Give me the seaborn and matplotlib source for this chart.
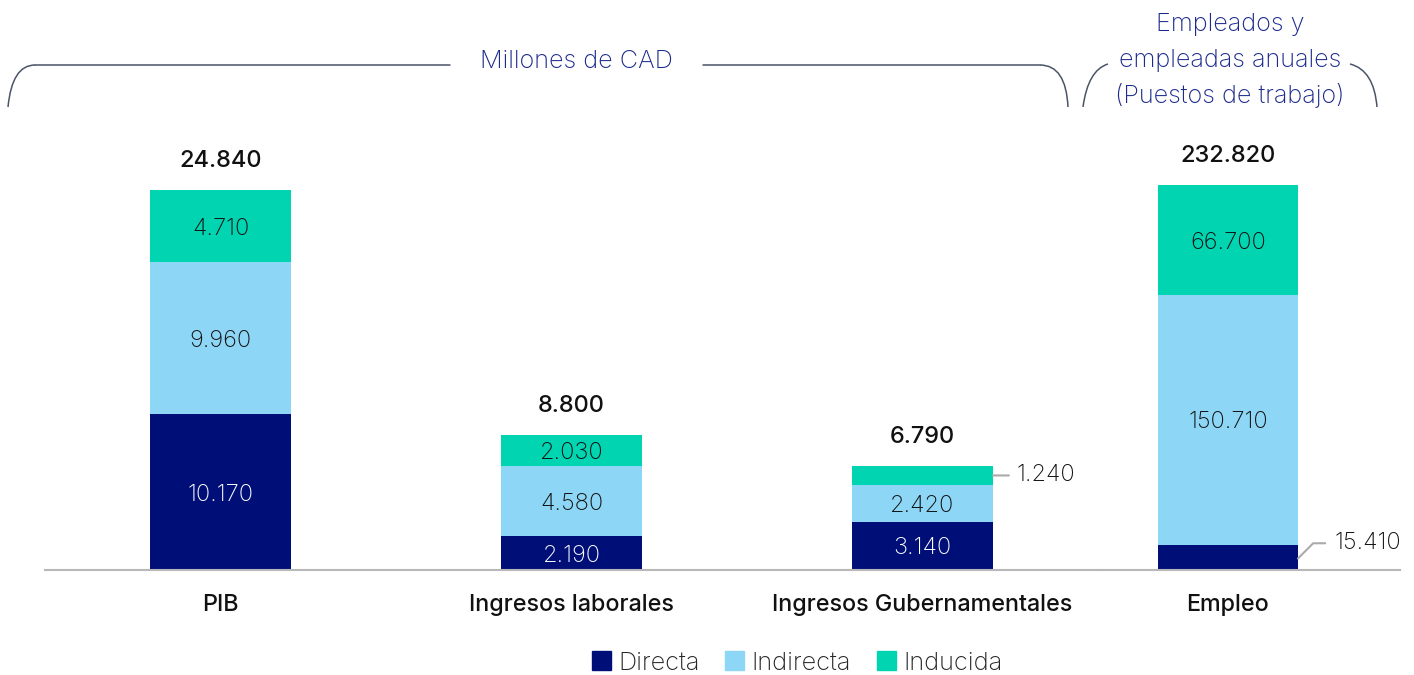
import seaborn as sns
import matplotlib.pyplot as plt
import pandas as pd
from matplotlib.patches import Patch, PathPatch
from matplotlib.path import Path

# Data
categorias = ['PIB', 'Ingresos laborales', 'Ingresos Gubernamentales']
directa = [10170, 2190, 3140]
indirecta = [9960, 4580, 2420]
inducida = [4710, 2030, 1240]
totales = [24840, 8800, 6790]

empleo_cat = ['Empleo']
empleo_directa = [15410]
empleo_indirecta = [150710]
empleo_inducida = [66700]
empleo_total = [232820]

series = ['Directa', 'Indirecta', 'Inducida']
colores = {'Directa': '#000f78', 'Indirecta': '#8dd6f5', 'Inducida': '#00d4b0'}
navy_text = '#1b2a8c'

sns.set_theme(style='white')
plt.rcParams['font.family'] = ['Inter', 'DejaVu Sans']


def fmt(v):
    return f'{int(v):,}'.replace(',', '.')


def stacked(ax, cats, d, i, n, tot, width):
    df = pd.DataFrame({'cat': cats, 'Directa': d, 'Indirecta': i, 'Inducida': n, 'total': tot})
    df['c_ind'] = df['Directa'] + df['Indirecta']
    df['c_tot'] = df['c_ind'] + df['Inducida']
    for col, s in [('c_tot', 'Inducida'), ('c_ind', 'Indirecta'), ('Directa', 'Directa')]:
        sns.barplot(data=df, x='cat', y=col, color=colores[s], width=width,
                    saturation=1, linewidth=0, ax=ax)
    return df


fig = plt.figure(figsize=(14.14, 6.75), dpi=100)
W, H = 1414, 675
base_y = 570
top_y = 100
ax1 = fig.add_axes([45 / W, (H - base_y) / H, (1098 - 45) / W, (base_y - top_y) / H])
ax2 = fig.add_axes([1098 / W, (H - base_y) / H, (1400 - 1098) / W, (base_y - top_y) / H])

df1 = stacked(ax1, categorias, directa, indirecta, inducida, totales, 0.4)
df2 = stacked(ax2, empleo_cat, empleo_directa, empleo_indirecta, empleo_inducida, empleo_total, 0.464)

ax1.set_xlim(-0.5, 2.5)
ax1.set_ylim(0, 24840 * (base_y - top_y) / 380)
ax2.set_xlim(-0.43, 0.57)
ax2.set_ylim(0, 232820 * (base_y - top_y) / 385)

for ax in (ax1, ax2):
    ax.set_xlabel('')
    ax.set_ylabel('')
    ax.set_yticks([])
    for s in ['top', 'left', 'right']:
        ax.spines[s].set_visible(False)
    ax.spines['bottom'].set_color('#b8b8b8')
    ax.spines['bottom'].set_linewidth(1.5)
    ax.tick_params(axis='x', length=0, pad=17, labelsize=16.8)
    ax.patch.set_alpha(0)
    for lab in ax.get_xticklabels():
        lab.set_fontweight('medium')
        lab.set_color('#111111')


def labels(ax, df, outside):
    for k, row in df.iterrows():
        segs = [('Directa', 0, row['Directa']),
                ('Indirecta', row['Directa'], row['Indirecta']),
                ('Inducida', row['c_ind'], row['Inducida'])]
        for name, b, v in segs:
            if (k, name) in outside:
                continue
            ax.text(k, b + v / 2, fmt(v), ha='center', va='center_baseline', fontsize=17,
                    color='white' if name == 'Directa' else '#111111', fontweight='light')
        ax.annotate(fmt(row['total']), (k, row['c_tot']), xytext=(0, 21),
                    textcoords='offset points', ha='center', va='center',
                    fontsize=17, fontweight='medium', color='#111111')


labels(ax1, df1, {(2, 'Inducida')})
labels(ax2, df2, {(0, 'Directa')})

# outside label: Ingresos Gubernamentales / Inducida
r = df1.iloc[2]
yv = r['c_ind'] + r['Inducida'] / 2
ax1.annotate(fmt(r['Inducida']), xy=(2.2, yv), xytext=(17, 0),
             textcoords='offset points', ha='left', va='center', fontsize=17,
             fontweight='light', color='#111111',
             arrowprops=dict(arrowstyle='-', color='#aaaaaa', lw=1.5, shrinkA=3, shrinkB=0))

# outside label: Empleo / Directa
r = df2.iloc[0]
ax2.annotate(fmt(r['Directa']), xy=(0.232, r['Directa'] * 0.45), xytext=(26, 11),
             textcoords='offset points', ha='left', va='center', fontsize=17,
             fontweight='light', color='#111111',
             arrowprops=dict(arrowstyle='-', color='#aaaaaa', lw=1.5, shrinkA=4, shrinkB=0,
                             connectionstyle='angle,angleA=0,angleB=45,rad=0'))

# header brackets in pixel coordinates
ov = fig.add_axes([0, 0, 1, 1])
ov.set_xlim(0, W)
ov.set_ylim(H, 0)
ov.axis('off')
ov.patch.set_alpha(0)
lc = '#4a5568'


def curve(pts):
    codes = [Path.MOVETO] + [Path.CURVE3] * (len(pts) - 1)
    ov.add_patch(PathPatch(Path(pts, codes), fill=False, ec=lc, lw=1.1))


curve([(8, 107), (12, 65), (35, 65)])
ov.plot([35, 450], [65, 65], color=lc, lw=1.1)
ov.plot([703, 1040], [65, 65], color=lc, lw=1.1)
curve([(1040, 65), (1066, 65), (1068, 107)])
curve([(1083, 107), (1088, 70), (1108, 64)])
curve([(1350, 64), (1374, 70), (1377, 107)])

for x, y, t in [(576, 62, 'Millones de CAD'), (1230, 24, 'Empleados y'),
                (1230, 60, 'empleadas anuales'), (1230, 95, '(Puestos de trabajo)')]:
    ov.text(x, y, t, ha='center', va='center', fontsize=18.2, fontweight='light', color=navy_text)

handles = [Patch(color=colores[s], label=s) for s in series]
fig.legend(handles=handles, loc='center', bbox_to_anchor=(797 / W, 1 - 663 / H), ncol=3,
           frameon=False, handlelength=0.75, handleheight=0.75,
           handletextpad=0.3, columnspacing=1.0, prop={'weight': 'light', 'size': 18.3})

fig.savefig('out.png', dpi=100)
